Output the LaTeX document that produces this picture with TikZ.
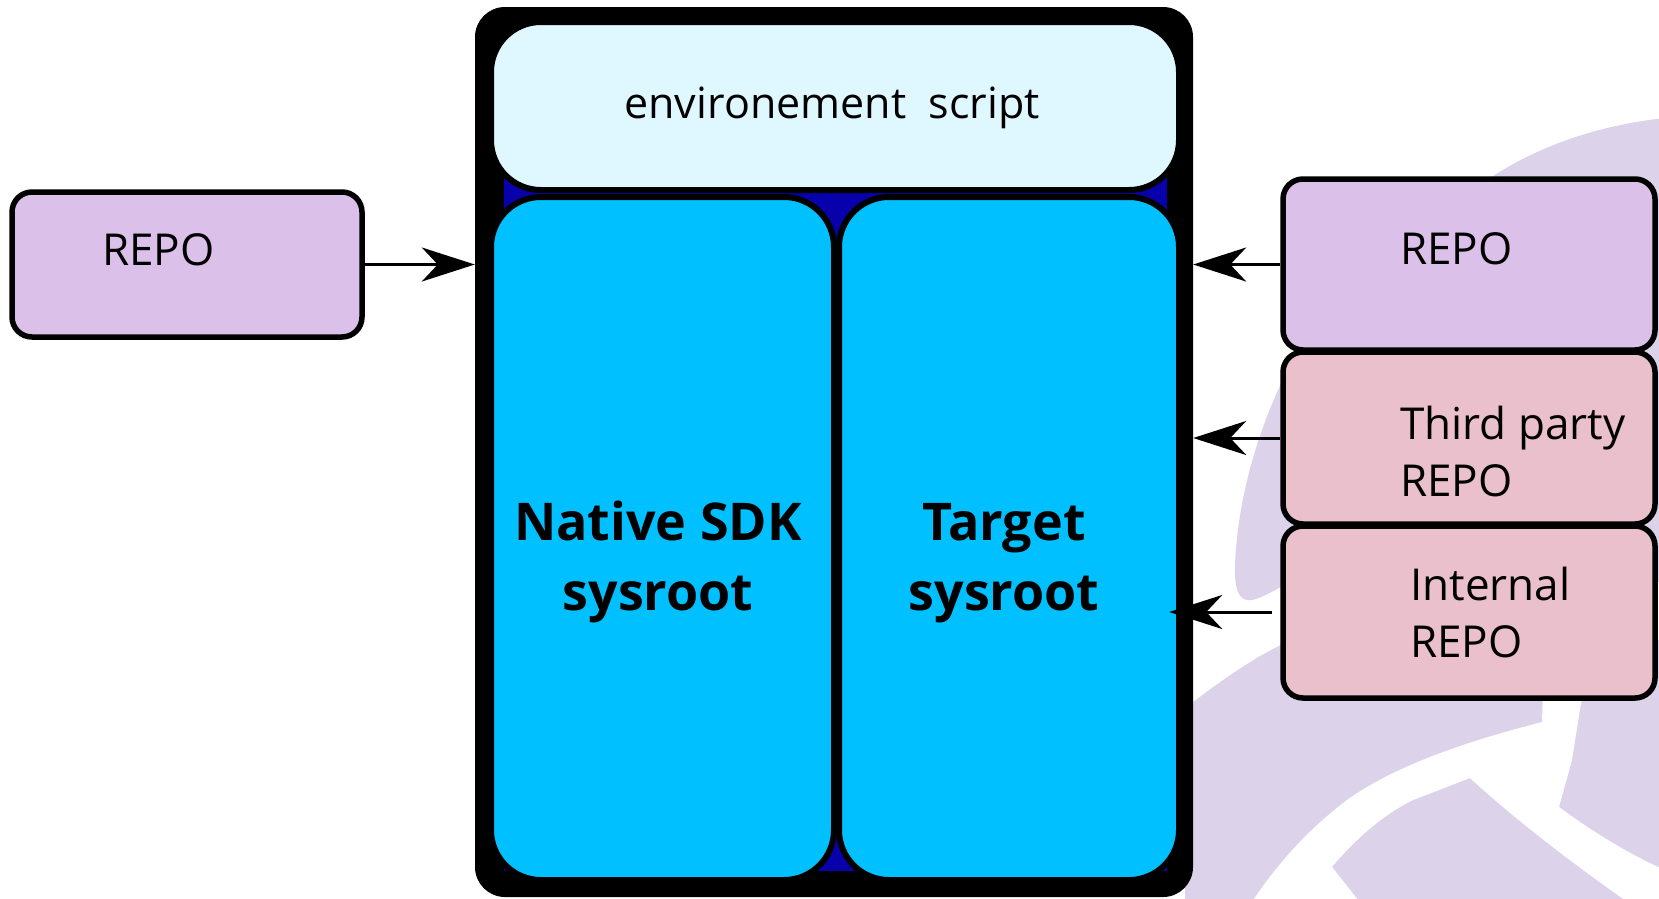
\documentclass[tikz,border=0pt]{standalone}
\usepackage{fontspec}
\setmainfont{Open Sans}
\usetikzlibrary{arrows.meta}
\definecolor{wm}{HTML}{DCD3EB}
\definecolor{lav}{HTML}{DBC0EA}
\definecolor{pinkbox}{HTML}{E9C0CB}
\definecolor{envc}{HTML}{DFF7FF}
\definecolor{sky}{HTML}{00C0FF}
\definecolor{navytwo}{HTML}{0800AA}
\begin{document}
\begin{tikzpicture}[x=1pt,y=-1pt,
  box/.style={draw=black, line width=5.5pt, rounded corners=20pt, inner sep=0pt},
  innerbox/.style={draw=black, line width=6pt, rounded corners=50pt, inner sep=0pt, fill=sky},
  lbl/.style={font=\fontsize{44}{57}\selectfont, anchor=base west, align=left, inner sep=0pt},
  big/.style={font=\fontsize{52}{70}\selectfont\bfseries, align=center, anchor=base, inner sep=0pt},
  arr/.style={line width=3pt, -{Stealth[length=53pt,width=34pt,inset=16pt]}}]
\useasboundingbox (0,0) rectangle (1659,898);
% watermark background
\fill[wm] (1290,365) .. controls (1262,420) and (1238,490) .. (1235,565)
  .. controls (1234,592) and (1240,602) .. (1252,600)
  .. controls (1262,598) and (1275,590) .. (1290,582) -- (1665,582) -- (1665,118)
  .. controls (1600,125) and (1540,145) .. (1490,178)
  .. controls (1420,220) and (1340,280) .. (1290,365) -- cycle;
\fill[wm] (1185,708) -- (1192,703) .. controls (1215,685) and (1240,668) .. (1260,656)
  -- (1290,640) -- (1665,640) -- (1665,905) -- (1185,905) -- cycle;
\fill[white] (1543,690) -- (1542,722) .. controls (1480,738) and (1400,762) .. (1347,800)
  .. controls (1310,828) and (1278,862) .. (1250,905) -- (1362,905) -- (1332,867)
  .. controls (1350,845) and (1380,816) .. (1413,800) -- (1470,778)
  .. controls (1510,815) and (1570,862) .. (1632,905) -- (1665,905) -- (1665,870)
  .. controls (1630,855) and (1590,830) .. (1559,807) -- (1572,760) -- (1583,690) -- cycle;
% main container
\node[fill=black, rounded corners=30pt, minimum width=718pt, minimum height=890pt, inner sep=0pt] (outer) at (834,452) {};
\node[fill=navytwo, minimum width=663pt, minimum height=693pt, inner sep=0pt] (core) at (835.5,524.5) {};
\node[draw=black, line width=6pt, rounded corners=50pt, fill=envc, minimum width=688pt, minimum height=168pt, inner sep=0pt] (env) at (835,106) {};
\node[innerbox, minimum width=343pt, minimum height=683pt] (native) at (662.5,538.5) {};
\node[innerbox, minimum width=340pt, minimum height=683pt] (target) at (1009,538.5) {};
\node[font=\fontsize{43}{50}\selectfont, anchor=base, inner sep=0pt] (envtxt) at (832,118) {environement\ \ script};
\node[big] (nattxt) at (658,610) {Native SDK\\sysroot};
\node[big] (tgttxt) at (1004,610) {Target\\sysroot};
% repo boxes
\node[box, fill=lav, minimum width=350pt, minimum height=145pt] (repoL) at (187,264.5) {};
\node[box, fill=lav, minimum width=372pt, minimum height=171pt] (repoR) at (1469,264.5) {};
\node[box, fill=pinkbox, minimum width=372pt, minimum height=172pt] (third) at (1469,438) {};
\node[box, fill=pinkbox, minimum width=372pt, minimum height=172pt] (internal) at (1469,612) {};
\node[lbl] (repoLtxt) at (102,265) {REPO};
\node[lbl] (repoRtxt) at (1400,264) {REPO};
\node[lbl] (thirdtxt) at (1400,496) {Third party\\REPO};
\node[lbl] (inttxt) at (1410,657) {Internal\\REPO};
% connectors
\draw[arr] (repoL.east) -- (repoL.east -| outer.west);
\draw[arr] (repoR.west) -- (repoR.west -| outer.east);
\draw[arr] (third.west) -- (third.west -| outer.east);
\coordinate (intstart) at ([xshift=-8pt]internal.west);
\coordinate (intend) at ([xshift=-24pt]internal.west -| outer.east);
\draw[arr] (intstart) -- (intend);
\end{tikzpicture}
\end{document}
